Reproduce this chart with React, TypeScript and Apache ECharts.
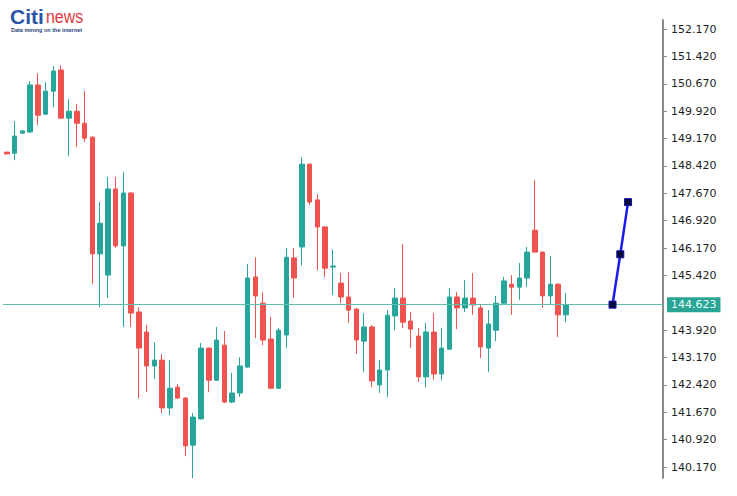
import React, { useEffect, useRef } from "react";
import * as echarts from "echarts";

// ---- data ----
const SLOTS = 85;
const categories: string[] = Array.from({ length: SLOTS }, (_, i) => String(i + 1));

// [open, close, low, high]
const candles: number[][] = [
  [148.8, 148.75, 148.74, 148.81],
  [148.77, 149.24, 148.58, 149.65],
  [149.32, 149.38, 149.3, 149.4],
  [149.35, 150.64, 149.33, 150.75],
  [150.64, 149.81, 149.54, 150.96],
  [149.84, 150.47, 149.82, 150.72],
  [150.47, 151.02, 150.03, 151.16],
  [151.05, 149.73, 149.71, 151.18],
  [149.73, 149.92, 148.69, 150.25],
  [149.92, 149.59, 148.94, 150.12],
  [149.59, 149.18, 149.07, 150.47],
  [149.21, 146.01, 145.18, 149.23],
  [146.01, 146.85, 144.55, 147.43],
  [145.43, 147.79, 144.8, 148.12],
  [147.79, 146.23, 146.17, 148.12],
  [146.23, 147.68, 144.01, 148.25],
  [147.68, 144.39, 144.01, 147.7],
  [144.42, 143.43, 142.06, 144.55],
  [143.87, 142.94, 142.22, 144.06],
  [142.94, 143.1, 142.58, 143.59],
  [143.1, 141.79, 141.65, 143.27],
  [141.79, 142.33, 141.59, 143.1],
  [142.36, 142.06, 142.04, 142.44],
  [142.06, 140.75, 140.47, 142.09],
  [140.77, 141.54, 139.87, 141.65],
  [141.49, 143.43, 141.47, 143.57],
  [143.43, 142.55, 142.22, 143.45],
  [142.55, 143.65, 142.53, 144.01],
  [143.51, 141.95, 141.93, 143.9],
  [141.95, 142.2, 141.92, 142.75],
  [142.2, 142.94, 142.09, 143.18],
  [142.91, 145.35, 142.89, 145.73],
  [145.38, 144.86, 143.7, 145.92],
  [144.66, 143.65, 143.51, 144.96],
  [143.68, 142.33, 142.31, 144.28],
  [142.33, 143.92, 142.31, 143.98],
  [143.79, 145.92, 143.43, 146.17],
  [145.9, 145.35, 144.8, 146.17],
  [146.2, 148.47, 145.7, 148.66],
  [148.47, 147.43, 147.35, 148.49],
  [147.49, 146.75, 145.57, 147.65],
  [146.75, 145.62, 145.38, 146.77],
  [145.65, 145.68, 144.88, 146.12],
  [145.21, 144.83, 144.66, 145.49],
  [144.83, 144.47, 144.12, 145.51],
  [144.5, 143.65, 143.27, 144.52],
  [143.62, 144.01, 142.77, 144.39],
  [144.01, 142.53, 142.36, 144.06],
  [142.42, 142.83, 142.2, 143.1],
  [142.83, 144.33, 142.09, 144.47],
  [144.31, 144.8, 143.92, 145.07],
  [144.8, 144.14, 143.98, 146.28],
  [144.17, 143.95, 143.43, 144.42],
  [143.76, 142.64, 142.5, 143.98],
  [142.64, 143.87, 142.36, 144.12],
  [143.87, 142.72, 142.55, 144.39],
  [142.72, 143.43, 142.55, 143.98],
  [143.4, 144.83, 143.38, 145.07],
  [144.83, 144.53, 143.95, 144.96],
  [144.53, 144.8, 144.42, 145.29],
  [144.8, 144.61, 144.34, 145.49],
  [144.53, 143.46, 143.16, 144.61],
  [143.43, 144.09, 142.77, 144.47],
  [143.92, 144.66, 143.62, 144.86],
  [144.66, 145.27, 144.61, 145.38],
  [145.18, 145.1, 144.34, 145.43],
  [145.1, 145.35, 144.75, 145.76],
  [145.35, 146.06, 145.1, 146.2],
  [146.66, 146.06, 146.04, 148.03],
  [146.06, 144.86, 144.53, 146.08],
  [144.86, 145.18, 144.61, 145.95],
  [145.18, 144.34, 143.73, 145.21],
  [144.34, 144.62, 144.14, 144.94],
];

const forecastSlots: string[] = ["79", "80", "81"];
const forecastValues: number[] = [144.62, 146.0, 147.43];

const currentPrice = 144.623;

const tickValues: number[] = [
  140.17, 140.92, 141.67, 142.42, 143.17, 143.92, 145.42, 146.17, 146.92,
  147.67, 148.42, 149.17, 149.92, 150.67, 151.42, 152.17,
];

const TEAL = "#26a69a";
const RED = "#ef5350";

export default function App() {
  const ref = useRef<HTMLDivElement>(null);

  useEffect(() => {
    if (!ref.current) return;
    const chart = echarts.init(ref.current, undefined, { renderer: "svg" });
    const option: any = {
      animation: false,
      backgroundColor: "#ffffff",
      grid: { left: 3, right: 74, top: 20, bottom: 18, containLabel: false },
      xAxis: {
        type: "category",
        data: categories,
        show: false,
        boundaryGap: true,
      },
      yAxis: {
        type: "value",
        position: "right",
        min: 139.87,
        max: 152.42,
        scale: true,
        splitLine: { show: false },
        axisLine: { show: true, lineStyle: { color: "#8a8a8a", width: 2 } },
        axisTick: {
          show: true,
          inside: false,
          length: 4,
          customValues: tickValues,
          lineStyle: { color: "#8a8a8a", width: 1 },
        },
        axisLabel: {
          customValues: tickValues,
          formatter: (v: number) => v.toFixed(3),
          fontFamily: "DejaVu Sans",
          fontSize: 11,
          color: "#1e1e1e",
          margin: 8,
        },
      },
      series: [
        {
          type: "candlestick",
          data: candles,
          barWidth: 5,
          clip: false,
          itemStyle: {
            color: TEAL,
            color0: RED,
            borderColor: TEAL,
            borderColor0: RED,
            borderWidth: 1,
          },
          markLine: {
            silent: true,
            symbol: "none",
            lineStyle: { color: "#5fbfb0", width: 1, type: "solid" },
            label: {
              show: true,
              position: "end",
              distance: 4,
              formatter: currentPrice.toFixed(3),
              backgroundColor: "#2aa595",
              color: "#e8fff9",
              fontFamily: "DejaVu Sans",
              fontSize: 11,
              padding: [2, 4, 2, 4],
            },
            data: [{ yAxis: currentPrice }],
          },
        },
        {
          type: "line",
          data: forecastSlots.map((s, i) => [s, forecastValues[i]]),
          showSymbol: true,
          showAllSymbol: true,
          lineStyle: { color: "#1a1aee", width: 2.5 },
          symbol: "rect",
          symbolSize: 7,
          itemStyle: { color: "#0a0a3a", borderColor: "#1010aa", borderWidth: 1 },
          z: 5,
        },
      ],
      graphic: [
        {
          type: "text",
          left: 10,
          top: 6,
          style: {
            text: "Citi",
            font: "bold 21px 'Liberation Sans'",
            lineHeight: 19,
            fill: "#2c54a6",
          },
        },
        {
          type: "text",
          x: 46,
          y: 8,
          scaleX: 0.84,
          style: {
            text: "news",
            font: "19px 'Liberation Sans'",
            lineHeight: 18,
            fill: "#e0393e",
          },
        },
        {
          type: "text",
          left: 11,
          top: 27,
          style: {
            text: "Data mining on the internet",
            font: "bold 5.5px 'Liberation Sans'",
            fill: "#2a3f7a",
          },
        },
      ],
    };
    chart.setOption(option);
    return () => chart.dispose();
  }, []);

  return (
    <div
      ref={ref}
      style={{ position: "absolute", left: 0, top: 0, width: 737, height: 496 }}
    />
  );
}
